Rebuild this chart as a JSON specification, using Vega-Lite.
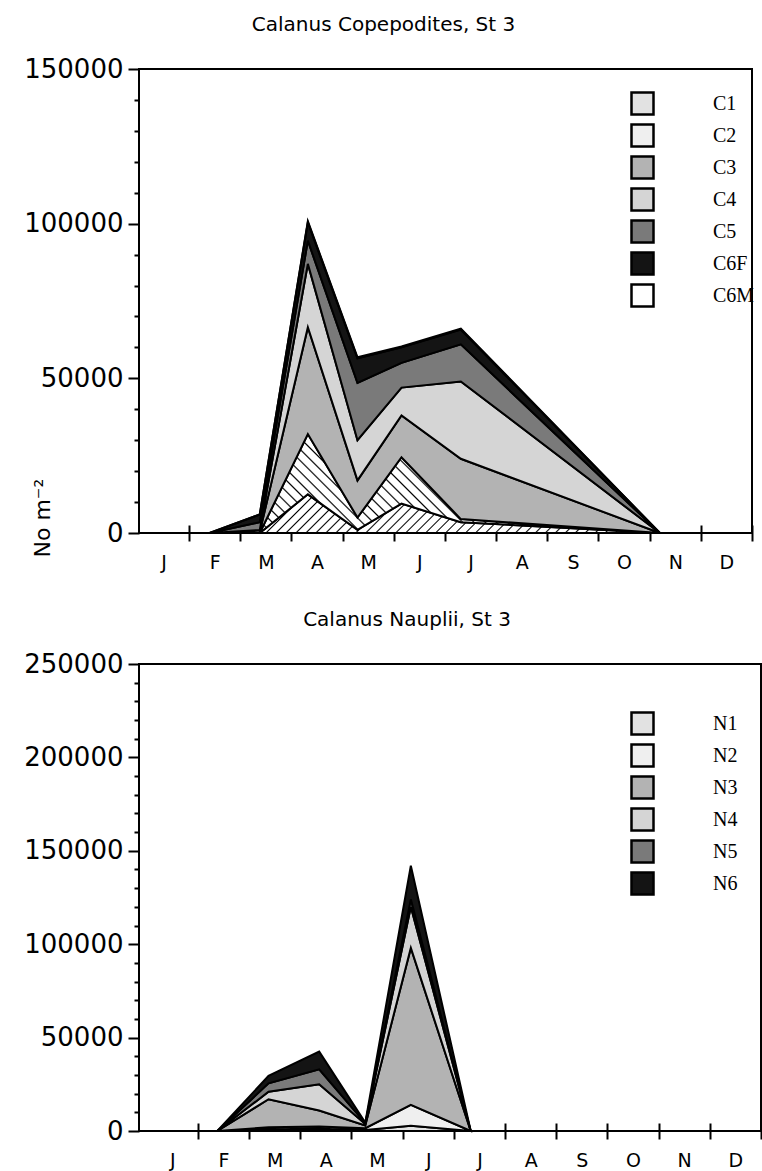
{
  "$schema": "https://vega.github.io/schema/vega-lite/v6.json",
  "background": "white",
  "padding": {"left": 22, "top": 14, "right": 0, "bottom": 0},
  "spacing": 36,
  "config": {
    "font": "DejaVu Sans",
    "view": {"stroke": "black", "strokeWidth": 2},
    "axis": {
      "domain": false,
      "grid": false,
      "labelColor": "black",
      "tickColor": "black",
      "titleColor": "black",
      "labelFont": "DejaVu Sans",
      "titleFont": "DejaVu Sans",
      "titleFontWeight": "normal"
    },
    "title": {"font": "DejaVu Sans", "fontWeight": "normal", "color": "black", "fontSize": 20},
    "legend": {
      "orient": "none",
      "title": null,
      "symbolType": "square",
      "symbolSize": 484,
      "symbolStrokeColor": "black",
      "symbolStrokeWidth": 2.5,
      "symbolOpacity": 1,
      "labelFont": "Liberation Serif",
      "labelFontSize": 20,
      "labelColor": "black",
      "labelOffset": 58,
      "rowPadding": -1,
      "padding": 0
    }
  },
  "datasets": {
    "copepodites": [
      {"month": 1.4, "stage": "C1", "n": 0}, {"month": 1.4, "stage": "C2", "n": 0}, {"month": 1.4, "stage": "C3", "n": 0}, {"month": 1.4, "stage": "C4", "n": 0}, {"month": 1.4, "stage": "C5", "n": 0}, {"month": 1.4, "stage": "C6F", "n": 0}, {"month": 1.4, "stage": "C6M", "n": 0},
      {"month": 2.38, "stage": "C1", "n": 0}, {"month": 2.38, "stage": "C2", "n": 0}, {"month": 2.38, "stage": "C3", "n": 300}, {"month": 2.38, "stage": "C4", "n": 700}, {"month": 2.38, "stage": "C5", "n": 2500}, {"month": 2.38, "stage": "C6F", "n": 2500}, {"month": 2.38, "stage": "C6M", "n": 0},
      {"month": 3.32, "stage": "C1", "n": 12500}, {"month": 3.32, "stage": "C2", "n": 19500}, {"month": 3.32, "stage": "C3", "n": 34500}, {"month": 3.32, "stage": "C4", "n": 20500}, {"month": 3.32, "stage": "C5", "n": 7500}, {"month": 3.32, "stage": "C6F", "n": 6000}, {"month": 3.32, "stage": "C6M", "n": 300},
      {"month": 4.29, "stage": "C1", "n": 1000}, {"month": 4.29, "stage": "C2", "n": 4000}, {"month": 4.29, "stage": "C3", "n": 12000}, {"month": 4.29, "stage": "C4", "n": 13000}, {"month": 4.29, "stage": "C5", "n": 18500}, {"month": 4.29, "stage": "C6F", "n": 8000}, {"month": 4.29, "stage": "C6M", "n": 300},
      {"month": 5.15, "stage": "C1", "n": 9500}, {"month": 5.15, "stage": "C2", "n": 15000}, {"month": 5.15, "stage": "C3", "n": 13500}, {"month": 5.15, "stage": "C4", "n": 9000}, {"month": 5.15, "stage": "C5", "n": 8000}, {"month": 5.15, "stage": "C6F", "n": 5000}, {"month": 5.15, "stage": "C6M", "n": 300},
      {"month": 6.31, "stage": "C1", "n": 3500}, {"month": 6.31, "stage": "C2", "n": 1000}, {"month": 6.31, "stage": "C3", "n": 19500}, {"month": 6.31, "stage": "C4", "n": 25000}, {"month": 6.31, "stage": "C5", "n": 12000}, {"month": 6.31, "stage": "C6F", "n": 4800}, {"month": 6.31, "stage": "C6M", "n": 300},
      {"month": 10.2, "stage": "C1", "n": 0}, {"month": 10.2, "stage": "C2", "n": 0}, {"month": 10.2, "stage": "C3", "n": 0}, {"month": 10.2, "stage": "C4", "n": 0}, {"month": 10.2, "stage": "C5", "n": 0}, {"month": 10.2, "stage": "C6F", "n": 0}, {"month": 10.2, "stage": "C6M", "n": 0}
    ],
    "nauplii": [
      {"month": 1.38, "stage": "N1", "n": 0}, {"month": 1.38, "stage": "N2", "n": 0}, {"month": 1.38, "stage": "N3", "n": 0}, {"month": 1.38, "stage": "N4", "n": 0}, {"month": 1.38, "stage": "N5", "n": 0}, {"month": 1.38, "stage": "N6", "n": 0},
      {"month": 2.38, "stage": "N1", "n": 900}, {"month": 2.38, "stage": "N2", "n": 1100}, {"month": 2.38, "stage": "N3", "n": 15000}, {"month": 2.38, "stage": "N4", "n": 4000}, {"month": 2.38, "stage": "N5", "n": 4500}, {"month": 2.38, "stage": "N6", "n": 4000},
      {"month": 3.37, "stage": "N1", "n": 1200}, {"month": 3.37, "stage": "N2", "n": 1200}, {"month": 3.37, "stage": "N3", "n": 8600}, {"month": 3.37, "stage": "N4", "n": 14000}, {"month": 3.37, "stage": "N5", "n": 8000}, {"month": 3.37, "stage": "N6", "n": 9500},
      {"month": 4.27, "stage": "N1", "n": 500}, {"month": 4.27, "stage": "N2", "n": 1000}, {"month": 4.27, "stage": "N3", "n": 1500}, {"month": 4.27, "stage": "N4", "n": 800}, {"month": 4.27, "stage": "N5", "n": 400}, {"month": 4.27, "stage": "N6", "n": 300},
      {"month": 5.16, "stage": "N1", "n": 2800}, {"month": 5.16, "stage": "N2", "n": 11200}, {"month": 5.16, "stage": "N3", "n": 84000}, {"month": 5.16, "stage": "N4", "n": 22000}, {"month": 5.16, "stage": "N5", "n": 4000}, {"month": 5.16, "stage": "N6", "n": 18000},
      {"month": 6.33, "stage": "N1", "n": 0}, {"month": 6.33, "stage": "N2", "n": 0}, {"month": 6.33, "stage": "N3", "n": 0}, {"month": 6.33, "stage": "N4", "n": 0}, {"month": 6.33, "stage": "N5", "n": 0}, {"month": 6.33, "stage": "N6", "n": 0}
    ]
  },
  "resolve": {"scale": {"fill": "independent"}, "legend": {"fill": "independent"}},
  "vconcat": [
    {
      "width": 613,
      "height": 464,
      "title": {"text": "Calanus Copepodites, St 3", "frame": "group", "anchor": "middle", "dx": -62, "offset": 21},
      "data": {"name": "copepodites"},
      "mark": {"type": "area", "interpolate": "linear", "stroke": "black", "strokeWidth": 2, "opacity": 1},
      "encoding": {
        "x": {
          "field": "month", "type": "quantitative",
          "scale": {"domain": [0.02, 12], "nice": false, "zero": false},
          "axis": {
            "title": null,
            "values": [0.5, 1, 1.5, 2, 2.5, 3, 3.5, 4, 4.5, 5, 5.5, 6, 6.5, 7, 7.5, 8, 8.5, 9, 9.5, 10, 10.5, 11, 11.5, 12],
            "labelExpr": "datum.value % 1 == 0.5 ? ['J','F','M','A','M','J','J','A','S','O','N','D'][floor(datum.value)] : ''",
            "labelOverlap": false,
            "labelBound": false,
            "labelFlush": false,
            "labelFontSize": 19,
            "labelPadding": 12,
            "offset": -8,
            "tickSize": 16,
            "tickWidth": 2,
            "tickOpacity": {"condition": {"test": "datum.value % 1 != 0", "value": 0}, "value": 1}
          }
        },
        "y": {
          "field": "n", "type": "quantitative", "stack": "zero",
          "scale": {"domain": [0, 150000], "nice": false},
          "axis": {
            "title": "No m⁻²",
            "titleFontSize": 22,
            "titleAngle": 270,
            "titleAlign": "left",
            "titleBaseline": "alphabetic",
            "titleX": -90,
            "titleY": 488,
            "values": [0, 10000, 20000, 30000, 40000, 50000, 60000, 70000, 80000, 90000, 100000, 110000, 120000, 130000, 140000, 150000],
            "labelExpr": "datum.value % 50000 == 0 ? format(datum.value, 'd') : ''",
            "labelFontSize": 26,
            "labelPadding": 5,
            "tickWidth": 2,
            "tickSize": {"condition": {"test": "datum.value % 50000 != 0", "value": 5}, "value": 11}
          }
        },
        "order": {"field": "stage", "sort": "ascending"},
        "fill": {
          "field": "stage", "type": "nominal",
          "scale": {
            "domain": ["C1", "C2", "C3", "C4", "C5", "C6F", "C6M"],
            "range": ["#e2e2e2", "#efefef", "#b3b3b3", "#d5d5d5", "#7a7a7a", "#141414", "#ffffff"]
          },
          "condition": [
            {"test": "datum.stage === 'C1'", "value": {"gradient": "linear", "x1": 0, "y1": 0, "x2": 1.078, "y2": 0.093, "stops": [
              {"offset": 0, "color": "#fff"},
              {"offset": 0.0080, "color": "#fff"}, {"offset": 0.0110, "color": "#000"}, {"offset": 0.0140, "color": "#fff"},
              {"offset": 0.0284, "color": "#fff"}, {"offset": 0.0314, "color": "#000"}, {"offset": 0.0344, "color": "#fff"},
              {"offset": 0.0488, "color": "#fff"}, {"offset": 0.0518, "color": "#000"}, {"offset": 0.0548, "color": "#fff"},
              {"offset": 0.0692, "color": "#fff"}, {"offset": 0.0722, "color": "#000"}, {"offset": 0.0752, "color": "#fff"},
              {"offset": 0.0896, "color": "#fff"}, {"offset": 0.0926, "color": "#000"}, {"offset": 0.0956, "color": "#fff"},
              {"offset": 0.1100, "color": "#fff"}, {"offset": 0.1130, "color": "#000"}, {"offset": 0.1160, "color": "#fff"},
              {"offset": 0.1304, "color": "#fff"}, {"offset": 0.1334, "color": "#000"}, {"offset": 0.1364, "color": "#fff"},
              {"offset": 0.1508, "color": "#fff"}, {"offset": 0.1538, "color": "#000"}, {"offset": 0.1568, "color": "#fff"},
              {"offset": 0.1712, "color": "#fff"}, {"offset": 0.1742, "color": "#000"}, {"offset": 0.1772, "color": "#fff"},
              {"offset": 0.1916, "color": "#fff"}, {"offset": 0.1946, "color": "#000"}, {"offset": 0.1976, "color": "#fff"},
              {"offset": 0.2120, "color": "#fff"}, {"offset": 0.2150, "color": "#000"}, {"offset": 0.2180, "color": "#fff"},
              {"offset": 0.2324, "color": "#fff"}, {"offset": 0.2354, "color": "#000"}, {"offset": 0.2384, "color": "#fff"},
              {"offset": 0.2528, "color": "#fff"}, {"offset": 0.2558, "color": "#000"}, {"offset": 0.2588, "color": "#fff"},
              {"offset": 0.2732, "color": "#fff"}, {"offset": 0.2762, "color": "#000"}, {"offset": 0.2792, "color": "#fff"},
              {"offset": 0.2936, "color": "#fff"}, {"offset": 0.2966, "color": "#000"}, {"offset": 0.2996, "color": "#fff"},
              {"offset": 0.3140, "color": "#fff"}, {"offset": 0.3170, "color": "#000"}, {"offset": 0.3200, "color": "#fff"},
              {"offset": 0.3344, "color": "#fff"}, {"offset": 0.3374, "color": "#000"}, {"offset": 0.3404, "color": "#fff"},
              {"offset": 0.3548, "color": "#fff"}, {"offset": 0.3578, "color": "#000"}, {"offset": 0.3608, "color": "#fff"},
              {"offset": 0.3752, "color": "#fff"}, {"offset": 0.3782, "color": "#000"}, {"offset": 0.3812, "color": "#fff"},
              {"offset": 0.3956, "color": "#fff"}, {"offset": 0.3986, "color": "#000"}, {"offset": 0.4016, "color": "#fff"},
              {"offset": 0.4160, "color": "#fff"}, {"offset": 0.4190, "color": "#000"}, {"offset": 0.4220, "color": "#fff"},
              {"offset": 0.4364, "color": "#fff"}, {"offset": 0.4394, "color": "#000"}, {"offset": 0.4424, "color": "#fff"},
              {"offset": 0.4568, "color": "#fff"}, {"offset": 0.4598, "color": "#000"}, {"offset": 0.4628, "color": "#fff"},
              {"offset": 0.4772, "color": "#fff"}, {"offset": 0.4802, "color": "#000"}, {"offset": 0.4832, "color": "#fff"},
              {"offset": 0.4976, "color": "#fff"}, {"offset": 0.5006, "color": "#000"}, {"offset": 0.5036, "color": "#fff"},
              {"offset": 0.5180, "color": "#fff"}, {"offset": 0.5210, "color": "#000"}, {"offset": 0.5240, "color": "#fff"},
              {"offset": 0.5384, "color": "#fff"}, {"offset": 0.5414, "color": "#000"}, {"offset": 0.5444, "color": "#fff"},
              {"offset": 0.5588, "color": "#fff"}, {"offset": 0.5618, "color": "#000"}, {"offset": 0.5648, "color": "#fff"},
              {"offset": 0.5792, "color": "#fff"}, {"offset": 0.5822, "color": "#000"}, {"offset": 0.5852, "color": "#fff"},
              {"offset": 0.5996, "color": "#fff"}, {"offset": 0.6026, "color": "#000"}, {"offset": 0.6056, "color": "#fff"},
              {"offset": 0.6200, "color": "#fff"}, {"offset": 0.6230, "color": "#000"}, {"offset": 0.6260, "color": "#fff"},
              {"offset": 0.6404, "color": "#fff"}, {"offset": 0.6434, "color": "#000"}, {"offset": 0.6464, "color": "#fff"},
              {"offset": 0.6608, "color": "#fff"}, {"offset": 0.6638, "color": "#000"}, {"offset": 0.6668, "color": "#fff"},
              {"offset": 0.6812, "color": "#fff"}, {"offset": 0.6842, "color": "#000"}, {"offset": 0.6872, "color": "#fff"},
              {"offset": 0.7016, "color": "#fff"}, {"offset": 0.7046, "color": "#000"}, {"offset": 0.7076, "color": "#fff"},
              {"offset": 0.7220, "color": "#fff"}, {"offset": 0.7250, "color": "#000"}, {"offset": 0.7280, "color": "#fff"},
              {"offset": 0.7424, "color": "#fff"}, {"offset": 0.7454, "color": "#000"}, {"offset": 0.7484, "color": "#fff"},
              {"offset": 0.7628, "color": "#fff"}, {"offset": 0.7658, "color": "#000"}, {"offset": 0.7688, "color": "#fff"},
              {"offset": 0.7832, "color": "#fff"}, {"offset": 0.7862, "color": "#000"}, {"offset": 0.7892, "color": "#fff"},
              {"offset": 0.8036, "color": "#fff"}, {"offset": 0.8066, "color": "#000"}, {"offset": 0.8096, "color": "#fff"},
              {"offset": 0.8240, "color": "#fff"}, {"offset": 0.8270, "color": "#000"}, {"offset": 0.8300, "color": "#fff"},
              {"offset": 0.8444, "color": "#fff"}, {"offset": 0.8474, "color": "#000"}, {"offset": 0.8504, "color": "#fff"},
              {"offset": 0.8648, "color": "#fff"}, {"offset": 0.8678, "color": "#000"}, {"offset": 0.8708, "color": "#fff"},
              {"offset": 0.8852, "color": "#fff"}, {"offset": 0.8882, "color": "#000"}, {"offset": 0.8912, "color": "#fff"},
              {"offset": 0.9056, "color": "#fff"}, {"offset": 0.9086, "color": "#000"}, {"offset": 0.9116, "color": "#fff"},
              {"offset": 0.9260, "color": "#fff"}, {"offset": 0.9290, "color": "#000"}, {"offset": 0.9320, "color": "#fff"},
              {"offset": 0.9464, "color": "#fff"}, {"offset": 0.9494, "color": "#000"}, {"offset": 0.9524, "color": "#fff"},
              {"offset": 0.9668, "color": "#fff"}, {"offset": 0.9698, "color": "#000"}, {"offset": 0.9728, "color": "#fff"},
              {"offset": 0.9872, "color": "#fff"}, {"offset": 0.9902, "color": "#000"}, {"offset": 0.9932, "color": "#fff"},
              {"offset": 1, "color": "#fff"}
            ]}},
            {"test": "datum.stage === 'C2'", "value": {"gradient": "linear", "x1": 0, "y1": 1, "x2": 1.164, "y2": 0.744, "stops": [
              {"offset": 0, "color": "#fff"},
              {"offset": 0.0080, "color": "#fff"}, {"offset": 0.0110, "color": "#000"}, {"offset": 0.0140, "color": "#fff"},
              {"offset": 0.0284, "color": "#fff"}, {"offset": 0.0314, "color": "#000"}, {"offset": 0.0344, "color": "#fff"},
              {"offset": 0.0488, "color": "#fff"}, {"offset": 0.0518, "color": "#000"}, {"offset": 0.0548, "color": "#fff"},
              {"offset": 0.0692, "color": "#fff"}, {"offset": 0.0722, "color": "#000"}, {"offset": 0.0752, "color": "#fff"},
              {"offset": 0.0896, "color": "#fff"}, {"offset": 0.0926, "color": "#000"}, {"offset": 0.0956, "color": "#fff"},
              {"offset": 0.1100, "color": "#fff"}, {"offset": 0.1130, "color": "#000"}, {"offset": 0.1160, "color": "#fff"},
              {"offset": 0.1304, "color": "#fff"}, {"offset": 0.1334, "color": "#000"}, {"offset": 0.1364, "color": "#fff"},
              {"offset": 0.1508, "color": "#fff"}, {"offset": 0.1538, "color": "#000"}, {"offset": 0.1568, "color": "#fff"},
              {"offset": 0.1712, "color": "#fff"}, {"offset": 0.1742, "color": "#000"}, {"offset": 0.1772, "color": "#fff"},
              {"offset": 0.1916, "color": "#fff"}, {"offset": 0.1946, "color": "#000"}, {"offset": 0.1976, "color": "#fff"},
              {"offset": 0.2120, "color": "#fff"}, {"offset": 0.2150, "color": "#000"}, {"offset": 0.2180, "color": "#fff"},
              {"offset": 0.2324, "color": "#fff"}, {"offset": 0.2354, "color": "#000"}, {"offset": 0.2384, "color": "#fff"},
              {"offset": 0.2528, "color": "#fff"}, {"offset": 0.2558, "color": "#000"}, {"offset": 0.2588, "color": "#fff"},
              {"offset": 0.2732, "color": "#fff"}, {"offset": 0.2762, "color": "#000"}, {"offset": 0.2792, "color": "#fff"},
              {"offset": 0.2936, "color": "#fff"}, {"offset": 0.2966, "color": "#000"}, {"offset": 0.2996, "color": "#fff"},
              {"offset": 0.3140, "color": "#fff"}, {"offset": 0.3170, "color": "#000"}, {"offset": 0.3200, "color": "#fff"},
              {"offset": 0.3344, "color": "#fff"}, {"offset": 0.3374, "color": "#000"}, {"offset": 0.3404, "color": "#fff"},
              {"offset": 0.3548, "color": "#fff"}, {"offset": 0.3578, "color": "#000"}, {"offset": 0.3608, "color": "#fff"},
              {"offset": 0.3752, "color": "#fff"}, {"offset": 0.3782, "color": "#000"}, {"offset": 0.3812, "color": "#fff"},
              {"offset": 0.3956, "color": "#fff"}, {"offset": 0.3986, "color": "#000"}, {"offset": 0.4016, "color": "#fff"},
              {"offset": 0.4160, "color": "#fff"}, {"offset": 0.4190, "color": "#000"}, {"offset": 0.4220, "color": "#fff"},
              {"offset": 0.4364, "color": "#fff"}, {"offset": 0.4394, "color": "#000"}, {"offset": 0.4424, "color": "#fff"},
              {"offset": 0.4568, "color": "#fff"}, {"offset": 0.4598, "color": "#000"}, {"offset": 0.4628, "color": "#fff"},
              {"offset": 0.4772, "color": "#fff"}, {"offset": 0.4802, "color": "#000"}, {"offset": 0.4832, "color": "#fff"},
              {"offset": 0.4976, "color": "#fff"}, {"offset": 0.5006, "color": "#000"}, {"offset": 0.5036, "color": "#fff"},
              {"offset": 0.5180, "color": "#fff"}, {"offset": 0.5210, "color": "#000"}, {"offset": 0.5240, "color": "#fff"},
              {"offset": 0.5384, "color": "#fff"}, {"offset": 0.5414, "color": "#000"}, {"offset": 0.5444, "color": "#fff"},
              {"offset": 0.5588, "color": "#fff"}, {"offset": 0.5618, "color": "#000"}, {"offset": 0.5648, "color": "#fff"},
              {"offset": 0.5792, "color": "#fff"}, {"offset": 0.5822, "color": "#000"}, {"offset": 0.5852, "color": "#fff"},
              {"offset": 0.5996, "color": "#fff"}, {"offset": 0.6026, "color": "#000"}, {"offset": 0.6056, "color": "#fff"},
              {"offset": 0.6200, "color": "#fff"}, {"offset": 0.6230, "color": "#000"}, {"offset": 0.6260, "color": "#fff"},
              {"offset": 0.6404, "color": "#fff"}, {"offset": 0.6434, "color": "#000"}, {"offset": 0.6464, "color": "#fff"},
              {"offset": 0.6608, "color": "#fff"}, {"offset": 0.6638, "color": "#000"}, {"offset": 0.6668, "color": "#fff"},
              {"offset": 0.6812, "color": "#fff"}, {"offset": 0.6842, "color": "#000"}, {"offset": 0.6872, "color": "#fff"},
              {"offset": 0.7016, "color": "#fff"}, {"offset": 0.7046, "color": "#000"}, {"offset": 0.7076, "color": "#fff"},
              {"offset": 0.7220, "color": "#fff"}, {"offset": 0.7250, "color": "#000"}, {"offset": 0.7280, "color": "#fff"},
              {"offset": 0.7424, "color": "#fff"}, {"offset": 0.7454, "color": "#000"}, {"offset": 0.7484, "color": "#fff"},
              {"offset": 0.7628, "color": "#fff"}, {"offset": 0.7658, "color": "#000"}, {"offset": 0.7688, "color": "#fff"},
              {"offset": 0.7832, "color": "#fff"}, {"offset": 0.7862, "color": "#000"}, {"offset": 0.7892, "color": "#fff"},
              {"offset": 0.8036, "color": "#fff"}, {"offset": 0.8066, "color": "#000"}, {"offset": 0.8096, "color": "#fff"},
              {"offset": 0.8240, "color": "#fff"}, {"offset": 0.8270, "color": "#000"}, {"offset": 0.8300, "color": "#fff"},
              {"offset": 0.8444, "color": "#fff"}, {"offset": 0.8474, "color": "#000"}, {"offset": 0.8504, "color": "#fff"},
              {"offset": 0.8648, "color": "#fff"}, {"offset": 0.8678, "color": "#000"}, {"offset": 0.8708, "color": "#fff"},
              {"offset": 0.8852, "color": "#fff"}, {"offset": 0.8882, "color": "#000"}, {"offset": 0.8912, "color": "#fff"},
              {"offset": 0.9056, "color": "#fff"}, {"offset": 0.9086, "color": "#000"}, {"offset": 0.9116, "color": "#fff"},
              {"offset": 0.9260, "color": "#fff"}, {"offset": 0.9290, "color": "#000"}, {"offset": 0.9320, "color": "#fff"},
              {"offset": 0.9464, "color": "#fff"}, {"offset": 0.9494, "color": "#000"}, {"offset": 0.9524, "color": "#fff"},
              {"offset": 0.9668, "color": "#fff"}, {"offset": 0.9698, "color": "#000"}, {"offset": 0.9728, "color": "#fff"},
              {"offset": 0.9872, "color": "#fff"}, {"offset": 0.9902, "color": "#000"}, {"offset": 0.9932, "color": "#fff"},
              {"offset": 1, "color": "#fff"}
            ]}}
          ],
          "legend": {"legendX": 491, "legendY": 22}
        }
      }
    },
    {
      "width": 622,
      "height": 467,
      "title": {"text": "Calanus Nauplii, St 3", "frame": "group", "anchor": "middle", "dx": -43, "offset": 21},
      "data": {"name": "nauplii"},
      "mark": {"type": "area", "interpolate": "linear", "stroke": "black", "strokeWidth": 2, "opacity": 1},
      "encoding": {
        "x": {
          "field": "month", "type": "quantitative",
          "scale": {"domain": [-0.15, 12], "nice": false, "zero": false},
          "axis": {
            "title": null,
            "values": [0.5, 1, 1.5, 2, 2.5, 3, 3.5, 4, 4.5, 5, 5.5, 6, 6.5, 7, 7.5, 8, 8.5, 9, 9.5, 10, 10.5, 11, 11.5, 12],
            "labelExpr": "datum.value % 1 == 0.5 ? ['J','F','M','A','M','J','J','A','S','O','N','D'][floor(datum.value)] : ''",
            "labelOverlap": false,
            "labelBound": false,
            "labelFlush": false,
            "labelFontSize": 19,
            "labelPadding": 12,
            "offset": -8,
            "tickSize": 16,
            "tickWidth": 2,
            "tickOpacity": {"condition": {"test": "datum.value % 1 != 0", "value": 0}, "value": 1}
          }
        },
        "y": {
          "field": "n", "type": "quantitative", "stack": "zero",
          "scale": {"domain": [0, 250000], "nice": false},
          "axis": {
            "title": null,
            "values": [0, 10000, 20000, 30000, 40000, 50000, 60000, 70000, 80000, 90000, 100000, 110000, 120000, 130000, 140000, 150000, 160000, 170000, 180000, 190000, 200000, 210000, 220000, 230000, 240000, 250000],
            "labelExpr": "datum.value % 50000 == 0 ? format(datum.value, 'd') : ''",
            "labelFontSize": 26,
            "labelPadding": 5,
            "tickWidth": 2,
            "tickSize": {"condition": {"test": "datum.value % 50000 != 0", "value": 5}, "value": 11}
          }
        },
        "order": {"field": "stage", "sort": "ascending"},
        "fill": {
          "field": "stage", "type": "nominal",
          "scale": {
            "domain": ["N1", "N2", "N3", "N4", "N5", "N6"],
            "range": ["#e2e2e2", "#efefef", "#b3b3b3", "#d5d5d5", "#7a7a7a", "#141414"]
          },
          "legend": {"legendX": 491, "legendY": 47}
        }
      }
    }
  ]
}
